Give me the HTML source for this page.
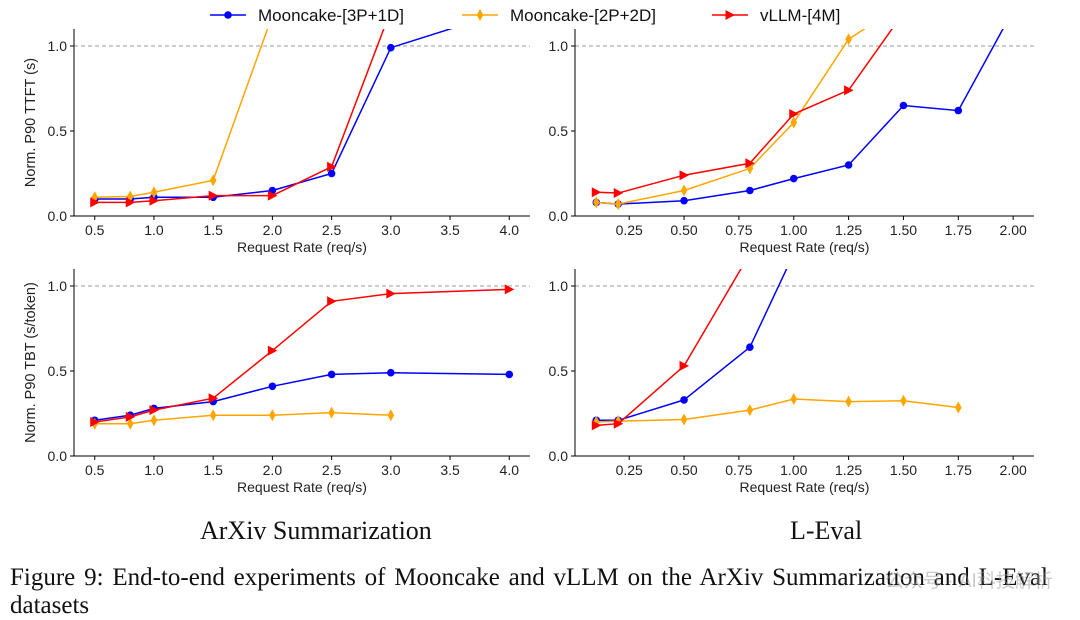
<!DOCTYPE html>
<html><head><meta charset="utf-8">
<style>
html,body{margin:0;padding:0;background:#fff;}
body{width:1080px;height:620px;position:relative;overflow:hidden;font-family:"Liberation Sans","Noto Sans CJK SC",sans-serif;}
.cap{position:absolute;font-family:"Liberation Serif","Noto Serif CJK SC",serif;color:#111;white-space:nowrap;}
.jl{display:block;width:1038px;text-align:justify;text-align-last:justify;white-space:normal;}
</style></head>
<body>
<svg id="chart" width="1080" height="620" style="position:absolute;left:0;top:0" xmlns="http://www.w3.org/2000/svg"></svg>
<div class="cap" style="left:200px;top:516px;font-size:26px;">ArXiv Summarization</div>
<div class="cap" style="left:790px;top:516px;font-size:26px;">L-Eval</div>
<div class="cap" style="left:10px;top:564px;font-size:25px;line-height:28px;"><span class="jl">Figure 9: End-to-end experiments of Mooncake and vLLM on the ArXiv Summarization and L-Eval</span>datasets</div>
<div style="position:absolute;left:885px;top:566px;font-size:19px;color:rgba(150,150,150,0.5);font-family:'Liberation Sans','Noto Sans CJK SC',sans-serif;">公众号 · AI科技解析</div>
<script>
const arxivX = [0.5, 0.8, 1.0, 1.5, 2.0, 2.5, 3.0, 4.0];
const arxivTtftBlue = [0.10, 0.10, 0.11, 0.11, 0.15, 0.25, 0.99, 1.21];
const arxivTtftOrangeX = [0.5, 0.8, 1.0, 1.5, 2.0];
const arxivTtftOrange = [0.11, 0.115, 0.14, 0.21, 1.18];
const arxivTtftRedX = [0.5, 0.8, 1.0, 1.5, 2.0, 2.5, 3.0];
const arxivTtftRed = [0.08, 0.08, 0.09, 0.12, 0.12, 0.29, 1.21];
const arxivTbtBlue = [0.21, 0.24, 0.28, 0.32, 0.41, 0.48, 0.49, 0.48];
const arxivTbtOrangeX = [0.5, 0.8, 1.0, 1.5, 2.0, 2.5, 3.0];
const arxivTbtOrange = [0.19, 0.19, 0.21, 0.24, 0.24, 0.255, 0.24];
const arxivTbtRed = [0.20, 0.23, 0.27, 0.34, 0.62, 0.91, 0.955, 0.98];
const levalX = [0.1, 0.2, 0.5, 0.8, 1.0, 1.25, 1.5, 1.75, 2.0];
const levalTtftBlue = [0.08, 0.07, 0.09, 0.15, 0.22, 0.30, 0.65, 0.62, 1.21];
const levalTtftOrangeX = [0.1, 0.2, 0.5, 0.8, 1.0, 1.25, 1.5];
const levalTtftOrange = [0.08, 0.07, 0.15, 0.28, 0.55, 1.04, 1.25];
const levalTtftRed = [0.14, 0.135, 0.24, 0.31, 0.60, 0.74, 1.195];
const levalTbtBlueX = [0.1, 0.2, 0.5, 0.8, 1.0];
const levalTbtBlue = [0.21, 0.21, 0.33, 0.64, 1.19];
const levalTbtRedX = [0.1, 0.2, 0.5, 0.8];
const levalTbtRed = [0.18, 0.19, 0.53, 1.19];
const levalTbtOrangeX = [0.1, 0.2, 0.5, 0.8, 1.0, 1.25, 1.5, 1.75];
const levalTbtOrange = [0.20, 0.205, 0.215, 0.27, 0.335, 0.32, 0.325, 0.285];
const arxivTicks = ["0.5","1.0","1.5","2.0","2.5","3.0","3.5","4.0"];
const levalTicks = ["0.25","0.50","0.75","1.00","1.25","1.50","1.75","2.00"];
const yTicks = ["0.0","0.5","1.0"];
const seriesNames = ["Mooncake-[3P+1D]","Mooncake-[2P+2D]","vLLM-[4M]"];

const NS="http://www.w3.org/2000/svg";
const svg=document.getElementById('chart');
function mk(tag,attrs,parent){const e=document.createElementNS(NS,tag);for(const k in attrs)e.setAttribute(k,attrs[k]);(parent||svg).appendChild(e);return e;}
const BLUE="#0000ff",ORANGE="#ffa500",RED="#ff0000";

function panel(id,L,R,T,B,xmin,xmax,xTickLabels,ylabel,series){
  const sx=v=>L+(v-xmin)/(xmax-xmin)*(R-L);
  const sy=v=>B-v*(B-T)/1.1;
  const g=mk('g',{});
  
  
  const cp=mk('clipPath',{id:'clip-'+id},g);
  mk('rect',{x:L,y:T,width:R-L,height:B-T},cp);
  const ref=mk('line',{x1:L,x2:R,y1:sy(1),y2:sy(1),stroke:'#999','stroke-width':1,'stroke-dasharray':'4,3'},g);
  
  
  const ax=mk('path',{d:`M${L},${T}V${B}H${R}`,fill:'none',stroke:'#000','stroke-width':1},g);
  
  
  yTicks.forEach(t=>{const v=parseFloat(t);const y=sy(v);
    mk('line',{x1:L-4,x2:L,y1:y,y2:y,stroke:'#000'},g);
    const tx=mk('text',{x:L-7,y:y+5,'text-anchor':'end','font-size':14,fill:'#222'},g);tx.textContent=t;
    
    });
  xTickLabels.forEach(t=>{const v=parseFloat(t);const x=sx(v);
    mk('line',{x1:x,x2:x,y1:B,y2:B+4,stroke:'#000'},g);
    const tx=mk('text',{x:x,y:B+19,'text-anchor':'middle','font-size':14,fill:'#222'},g);tx.textContent=t;
    
    });
  const xl=mk('text',{x:(L+R)/2,y:B+36,'text-anchor':'middle','font-size':14,fill:'#222'},g);xl.textContent='Request Rate (req/s)';
  
  
  if(ylabel){const yl=mk('text',{x:0,y:0,transform:`translate(35,${(T+B)/2}) rotate(-90)`,'text-anchor':'middle','font-size':14.5,fill:'#222'},g);yl.textContent=ylabel;
    
    }
  series.forEach(s=>{
    const sg=mk('g',{'clip-path':`url(#clip-${id})`},g);
    
    
    const pts=s.xs.map((x,i)=>[sx(x),sy(s.ys[i])]);
    const ln=mk('polyline',{points:pts.map(p=>p.join(',')).join(' '),fill:'none',stroke:s.color,'stroke-width':1.5},sg);
    
    
    pts.forEach(p=>{marker(sg,s.marker,p[0],p[1],s.color);});
  });
}
function marker(g,type,x,y,c){
  let m;
  if(type==='o') m=mk('circle',{cx:x,cy:y,r:3.8,fill:c},g);
  else if(type==='d') m=mk('polygon',{points:`${x},${y-6} ${x+3.3},${y} ${x},${y+6} ${x-3.3},${y}`,fill:c},g);
  else m=mk('polygon',{points:`${x-4.5},${y-5} ${x+5},${y} ${x-4.5},${y+5}`,fill:c},g);
  
  
}
panel('arxiv-ttft',74,530,29,216,0.325,4.175,arxivTicks,'Norm. P90 TTFT (s)',[
 {name:'mooncake-3p1d',xs:arxivX,ys:arxivTtftBlue,color:BLUE,marker:'o'},
 {name:'mooncake-2p2d',xs:arxivTtftOrangeX,ys:arxivTtftOrange,color:ORANGE,marker:'d'},
 {name:'vllm-4m',xs:arxivTtftRedX,ys:arxivTtftRed,color:RED,marker:'>'}]);
panel('leval-ttft',575,1034,29,216,0.003,2.095,levalTicks,null,[
 {name:'mooncake-3p1d',xs:levalX,ys:levalTtftBlue,color:BLUE,marker:'o'},
 {name:'mooncake-2p2d',xs:levalTtftOrangeX,ys:levalTtftOrange,color:ORANGE,marker:'d'},
 {name:'vllm-4m',xs:levalTtftOrangeX,ys:levalTtftRed,color:RED,marker:'>'}]);
panel('arxiv-tbt',74,530,269,456,0.325,4.175,arxivTicks,'Norm. P90 TBT (s/token)',[
 {name:'mooncake-3p1d',xs:arxivX,ys:arxivTbtBlue,color:BLUE,marker:'o'},
 {name:'mooncake-2p2d',xs:arxivTbtOrangeX,ys:arxivTbtOrange,color:ORANGE,marker:'d'},
 {name:'vllm-4m',xs:arxivX,ys:arxivTbtRed,color:RED,marker:'>'}]);
panel('leval-tbt',575,1034,269,456,0.003,2.095,levalTicks,null,[
 {name:'mooncake-3p1d',xs:levalTbtBlueX,ys:levalTbtBlue,color:BLUE,marker:'o'},
 {name:'mooncake-2p2d',xs:levalTbtOrangeX,ys:levalTbtOrange,color:ORANGE,marker:'d'},
 {name:'vllm-4m',xs:levalTbtRedX,ys:levalTbtRed,color:RED,marker:'>'}]);
const legendX=[210,462,712], colors=[BLUE,ORANGE,RED], mks=['o','d','>'];
seriesNames.forEach((n,i)=>{
  const g=mk('g',{});
  
  
  mk('line',{x1:legendX[i],x2:legendX[i]+36,y1:15,y2:15,stroke:colors[i],'stroke-width':1.5},g);
  marker(g,mks[i],legendX[i]+18,15,colors[i]);
  const t=mk('text',{x:legendX[i]+48,y:21,'font-size':17,fill:'#111'},g);t.textContent=n;
});
</script>
</body></html>
